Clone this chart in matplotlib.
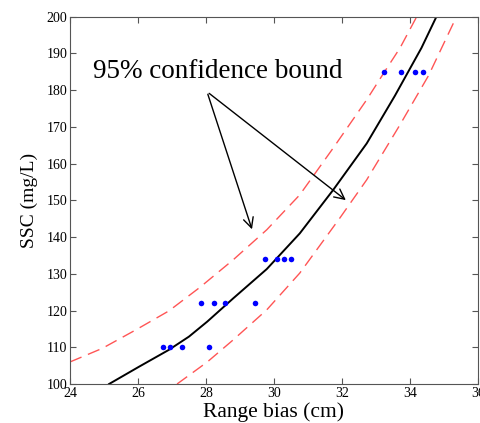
import matplotlib.pyplot as plt

# measured samples (blue dots)
range_bias = [26.75, 26.95, 27.3, 28.1,
              27.85, 28.25, 28.55, 29.45,
              29.75, 30.1, 30.3, 30.5,
              33.25, 33.75, 34.15, 34.4]
ssc = [110, 110, 110, 110,
       122, 122, 122, 122,
       134, 134, 134, 134,
       185, 185, 185, 185]

# fitted curve
fit_x = [25.15, 26.03, 26.91, 27.5, 28.04, 28.8, 29.79, 30.76, 31.74, 32.73, 33.56, 33.95, 34.34, 34.78]
fit_y = [100, 104.7, 109.3, 112.9, 117, 123.3, 131.3, 141, 152.8, 165.5, 178.5, 185, 191.5, 200]

# 95% confidence bounds
upper_x = [24.0, 24.95, 25.93, 26.91, 27.82, 28.8, 29.79, 30.76, 31.74, 32.73, 33.26, 33.71, 34.2]
upper_y = [106, 109.7, 114.7, 119.9, 126.3, 133.8, 142, 151.5, 164.2, 177.4, 185.1, 191.5, 200]
lower_x = [27.15, 28.04, 28.8, 29.79, 30.76, 31.94, 32.73, 33.71, 34.55, 35.37]
lower_y = [100, 106, 112, 120.2, 130.2, 145.2, 155.6, 170.6, 184, 200]


def main():
    plt.rcParams['font.family'] = ['Liberation Serif', 'DejaVu Serif']
    fig = plt.figure(figsize=(4.81, 4.23), dpi=100)
    ax = fig.add_axes([0.1455, 0.0922, 0.848, 0.8683])

    ax.plot(upper_x, upper_y, color='#ff5555', lw=1.0, dashes=(9, 5))
    ax.plot(lower_x, lower_y, color='#ff5555', lw=1.0, dashes=(9, 5))
    ax.plot(fit_x, fit_y, color='black', lw=1.4)
    ax.plot(range_bias, ssc, 'o', color='blue', ms=4, mec='none')

    ax.annotate('', xy=(29.38, 141.4), xytext=(28.03, 179.6),
                arrowprops=dict(arrowstyle='->', color='black', lw=1, mutation_scale=18))
    ax.annotate('', xy=(32.18, 149.6), xytext=(28.03, 179.6),
                arrowprops=dict(arrowstyle='->', color='black', lw=1, mutation_scale=18))
    ax.text(24.68, 183.2, '95% confidence bound', fontsize=19.5, va='baseline')

    ax.set_xlim(24, 36)
    ax.set_ylim(100, 200)
    ax.set_xticks(range(24, 37, 2))
    ax.set_yticks(range(100, 201, 10))
    ax.tick_params(direction='in', top=True, right=True, labelsize=10,
                   length=4, color='#555555', pad=2)
    for s in ax.spines.values():
        s.set_color('#555555')
    ax.set_xlabel('Range bias (cm)', fontsize=15.5, labelpad=2)
    ax.set_ylabel('SSC (mg/L)', fontsize=14, labelpad=6)

    fig.savefig('out.png', dpi=100)


if __name__ == '__main__':
    main()
